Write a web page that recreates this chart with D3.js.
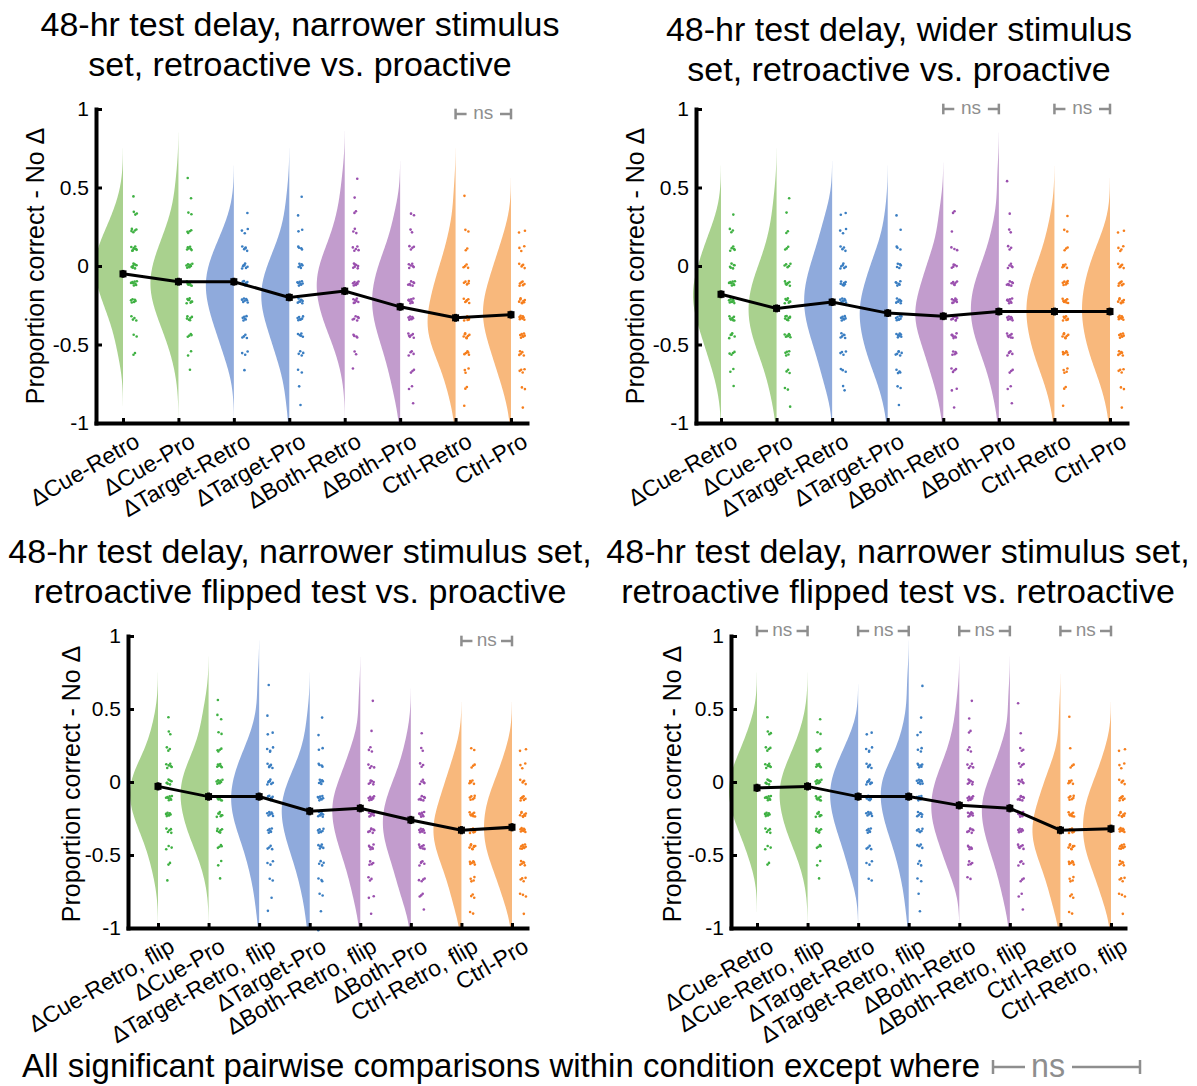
<!DOCTYPE html>
<html>
<head>
<meta charset="utf-8">
<script src="https://cdn.jsdelivr.net/npm/d3@7"></script>
<style>
body { margin: 0; background: #fff; }
text { font-family: "Liberation Sans", Arial, sans-serif; }
</style>
</head>
<body>
<script>
// response levels (proportion correct differences come in ninths)
var levels = [0.778, 0.667, 0.556, 0.444, 0.333, 0.222, 0.111, 0, -0.111, -0.222, -0.333, -0.444, -0.556, -0.667, -0.778, -0.889, -1];

var labelsRetroPro = ["ΔCue-Retro", "ΔCue-Pro", "ΔTarget-Retro", "ΔTarget-Pro", "ΔBoth-Retro", "ΔBoth-Pro", "Ctrl-Retro", "Ctrl-Pro"];
var labelsFlipPro = ["ΔCue-Retro, flip", "ΔCue-Pro", "ΔTarget-Retro, flip", "ΔTarget-Pro", "ΔBoth-Retro, flip", "ΔBoth-Pro", "Ctrl-Retro, flip", "Ctrl-Pro"];
var labelsFlipRetro = ["ΔCue-Retro", "ΔCue-Retro, flip", "ΔTarget-Retro", "ΔTarget-Retro, flip", "ΔBoth-Retro", "ΔBoth-Retro, flip", "Ctrl-Retro", "Ctrl-Retro, flip"];

var yTicks = [-1, -0.5, 0, 0.5, 1];

// means shown by the black line
var meansNarrow = [-0.05, -0.10, -0.10, -0.20, -0.16, -0.26, -0.33, -0.31];
var meansWider = [-0.18, -0.27, -0.23, -0.30, -0.32, -0.29, -0.29, -0.29];
var meansFlipPro = [-0.03, -0.10, -0.10, -0.20, -0.18, -0.26, -0.33, -0.31];
var meansFlipRetro = [-0.04, -0.03, -0.10, -0.10, -0.16, -0.18, -0.33, -0.32];

var semNarrow = [0.025, 0.025, 0.025, 0.025, 0.025, 0.025, 0.025, 0.025];
var semWider = [0.025, 0.025, 0.025, 0.025, 0.025, 0.025, 0.025, 0.025];
var semFlipPro = [0.028, 0.028, 0.028, 0.028, 0.028, 0.028, 0.028, 0.028];
var semFlipRetro = [0.028, 0.028, 0.028, 0.028, 0.028, 0.028, 0.028, 0.028];

// number of subjects at each level (same order as levels), one row per condition
var countsNarrow = [
  [0,0,0,1,3,5,8,9,8,6,4,2,2,0,0,0,0],
  [0,0,1,1,2,4,6,8,9,8,6,4,2,1,0,0,0],
  [0,0,0,0,1,3,5,7,8,7,6,4,3,1,0,0,0],
  [0,0,0,1,1,2,4,6,8,8,7,5,4,2,1,1,0],
  [0,0,1,1,2,3,5,7,8,7,6,4,2,1,0,0,0],
  [0,0,0,0,2,2,4,6,7,8,7,6,4,3,2,1,0],
  [0,0,0,1,0,2,2,4,5,6,7,7,5,3,2,1,0],
  [0,0,0,0,0,2,3,5,6,8,8,7,5,4,2,1,0]
];
var countsWider = [
  [0,0,0,0,1,3,5,6,8,8,7,5,4,2,1,0,0],
  [0,0,0,1,1,2,3,5,7,8,8,7,5,3,2,1,0],
  [0,0,0,0,2,3,4,6,7,8,7,6,4,3,2,0,0],
  [0,0,0,0,1,1,3,5,6,8,8,7,6,4,2,1,0],
  [0,0,0,0,2,1,3,5,6,8,9,7,5,4,2,1,0],
  [0,0,1,0,1,2,3,5,7,8,8,7,5,3,2,1,0],
  [0,0,0,0,1,2,3,5,7,8,8,7,6,4,2,1,0],
  [0,0,0,0,0,2,4,6,7,8,8,7,6,4,2,1,0]
];
var countsFlipPro = [
  [0,0,0,1,2,3,6,8,8,7,5,3,2,1,0,0,0],
  [0,0,1,2,2,4,6,8,8,7,6,4,2,1,0,0,0],
  [0,1,0,1,2,4,6,7,8,7,6,4,3,2,1,1,0],
  [0,0,0,1,1,2,4,6,8,8,7,6,4,3,2,1,1],
  [0,0,1,0,1,3,4,6,8,8,7,6,4,3,2,1,0],
  [0,0,0,0,1,2,3,5,7,8,8,7,5,4,3,1,0],
  [0,0,0,0,0,2,3,5,6,8,9,8,6,4,3,2,0],
  [0,0,0,0,0,2,3,5,7,8,8,8,6,4,3,1,0]
];
var countsFlipRetro = [
  [0,0,0,1,3,4,7,8,8,7,5,3,2,0,0,0,0],
  [0,0,0,1,2,4,6,8,8,7,6,4,2,1,0,0,0],
  [0,0,0,0,2,4,6,8,8,7,6,4,3,2,0,0,0],
  [0,1,0,1,2,3,6,8,8,7,6,4,3,2,1,1,0],
  [0,0,1,1,2,3,5,7,8,8,7,5,4,2,0,0,0],
  [0,0,1,0,1,3,4,6,8,8,7,6,4,3,2,1,0],
  [0,0,0,1,0,1,3,5,6,8,9,8,6,4,3,2,0],
  [0,0,0,0,0,2,3,5,7,8,8,8,6,4,3,1,0]
];

// non-significant pairs (1-based condition index)
var nsNarrow = [[7, 8]];
var nsWider = [[5, 6], [7, 8]];
var nsFlipPro = [[7, 8]];
var nsFlipRetro = [[1, 2], [3, 4], [5, 6], [7, 8]];

var violinColors = ["#a9d18e", "#a9d18e", "#8faadc", "#8faadc", "#c29ccd", "#c29ccd", "#f8b87c", "#f8b87c"];
var dotColors = ["#3fb143", "#3fb143", "#3a7ec2", "#3a7ec2", "#9a4fae", "#9a4fae", "#f67e1c", "#f67e1c"];
var nsGray = "#8e8e8e";

var svg = d3.select("body").append("svg")
    .attr("width", 1197)
    .attr("height", 1086);

var panels = [
  { title: ["48-hr test delay, narrower stimulus", "set, retroactive vs. proactive"], labels: labelsRetroPro,
    means: meansNarrow, sem: semNarrow, counts: countsNarrow, ns: nsNarrow,
    left: 96, right: 527, c1: 123, c8: 511, top: 109, bottom: 423, tx: 300, ty: 36, lx: 44, ly: 266, nsY: 114 },
  { title: ["48-hr test delay, wider stimulus", "set, retroactive vs. proactive"], labels: labelsRetroPro,
    means: meansWider, sem: semWider, counts: countsWider, ns: nsWider,
    left: 696, right: 1127, c1: 721, c8: 1110, top: 109, bottom: 423, tx: 899, ty: 41, lx: 644, ly: 266, nsY: 109 },
  { title: ["48-hr test delay, narrower stimulus set,", "retroactive flipped test vs. proactive"], labels: labelsFlipPro,
    means: meansFlipPro, sem: semFlipPro, counts: countsFlipPro, ns: nsFlipPro,
    left: 128, right: 527, c1: 158, c8: 512, top: 636, bottom: 928, tx: 300, ty: 563, lx: 80, ly: 784, nsY: 641 },
  { title: ["48-hr test delay, narrower stimulus set,", "retroactive flipped test vs. retroactive"], labels: labelsFlipRetro,
    means: meansFlipRetro, sem: semFlipRetro, counts: countsFlipRetro, ns: nsFlipRetro,
    left: 731, right: 1125, c1: 757, c8: 1111, top: 636, bottom: 928, tx: 898, ty: 563, lx: 681, ly: 784, nsY: 631 }
];

// deterministic spread of the dots inside a row
function halton(i, b) {
    var f = 1, r = 0;
    while (i > 0) { f /= b; r += f * (i % b); i = Math.floor(i / b); }
    return r;
}

var grid = d3.range(-1, 1.0001, 0.01);

function kde(vals, h) {
    return grid.map(function (t) {
        return [t, d3.sum(vals, function (v) { return Math.exp(-0.5 * Math.pow((t - v) / h, 2)); })];
    });
}

panels.forEach(drawPanel);

function drawPanel(p) {
    var g = svg.append("g");
    var step = (p.c8 - p.c1) / 7;
    var x = d3.scaleLinear()
        .domain([1 - (p.c1 - p.left) / step, 8 + (p.right - p.c8) / step])
        .range([p.left, p.right]);
    var y = d3.scaleLinear().domain([-1, 1]).range([p.bottom, p.top]);

    // title
    g.append("text")
        .attr("x", p.tx).attr("y", p.ty)
        .attr("text-anchor", "middle")
        .attr("font-size", 34)
        .selectAll("tspan")
        .data(p.title)
        .enter().append("tspan")
            .attr("x", p.tx)
            .attr("dy", function (d, i) { return i ? 40 : 0; })
            .text(function (d) { return d; });

    // violins
    p.counts.forEach(function (row, ci) {
        var vals = [];
        row.forEach(function (c, j) { for (var k = 0; k < c; k++) vals.push(levels[j]); });
        var dens = kde(vals, 0.12);
        var mx = d3.max(dens, function (d) { return d[1]; });
        dens = dens.filter(function (d) { return d[1] / mx > 0.002; });
        var cx = x(ci + 1);
        var area = d3.area()
            .curve(d3.curveBasis)
            .y(function (d) { return y(d[0]); })
            .x0(function (d) { return cx - 28 * d[1] / mx; })
            .x1(cx);
        g.append("path")
            .attr("d", area(dens))
            .attr("fill", violinColors[ci]);

        // dots
        var dots = [];
        row.forEach(function (c, j) {
            for (var k = 0; k < c; k++) {
                var idx = k + 1 + j * 7 + ci * 13;
                dots.push({ v: levels[j], dx: 8 + 6 * halton(idx, 2), dy: (halton(idx, 3) - 0.5) * 5 });
            }
        });
        g.selectAll(null)
            .data(dots)
            .enter().append("circle")
                .attr("cx", function (d) { return cx + d.dx; })
                .attr("cy", function (d) { return y(d.v) + d.dy; })
                .attr("r", 1.3)
                .attr("fill", dotColors[ci]);
    });

    // axes
    var yAxis = g.append("g")
        .attr("transform", "translate(" + p.left + ",0)")
        .call(d3.axisLeft(y).tickValues(yTicks).tickFormat(function (d) { return String(d); })
            .tickSizeInner(-6).tickSizeOuter(0).tickPadding(7));
    yAxis.selectAll("text").attr("font-size", 21).attr("font-family", "Liberation Sans, Arial, sans-serif");
    yAxis.selectAll("line").attr("stroke-width", 3);

    var xAxis = g.append("g")
        .attr("transform", "translate(0," + p.bottom + ")")
        .call(d3.axisBottom(x).tickValues(d3.range(1, 9)).tickFormat(function (d) { return p.labels[d - 1]; })
            .tickSizeInner(-5).tickSizeOuter(0));
    xAxis.selectAll("line").attr("stroke-width", 3);
    xAxis.selectAll("text")
        .attr("font-size", 23)
        .attr("font-family", "Liberation Sans, Arial, sans-serif")
        .attr("text-anchor", "end")
        .attr("x", 0).attr("y", 0).attr("dy", "0.75em")
        .attr("transform", "translate(9,8) rotate(-30)");

    g.selectAll(".domain").attr("stroke-width", 4).attr("stroke-linecap", "square");

    // mean line with error bars
    var line = d3.line()
        .x(function (d, i) { return x(i + 1); })
        .y(function (d) { return y(d); });
    g.append("path")
        .attr("d", line(p.means))
        .attr("fill", "none")
        .attr("stroke", "#000")
        .attr("stroke-width", 3);
    g.selectAll(null)
        .data(p.means)
        .enter().append("line")
            .attr("x1", function (d, i) { return x(i + 1); })
            .attr("x2", function (d, i) { return x(i + 1); })
            .attr("y1", function (d, i) { return y(d - p.sem[i]); })
            .attr("y2", function (d, i) { return y(d + p.sem[i]); })
            .attr("stroke", "#000")
            .attr("stroke-width", 3);
    g.selectAll(null)
        .data(p.means)
        .enter().append("rect")
            .attr("x", function (d, i) { return x(i + 1) - 3.5; })
            .attr("y", function (d) { return y(d) - 3.5; })
            .attr("width", 7).attr("height", 7)
            .attr("fill", "#000");

    // y label
    g.append("text")
        .attr("transform", "translate(" + p.lx + "," + p.ly + ") rotate(-90)")
        .attr("text-anchor", "middle")
        .attr("font-size", 25)
        .text("Proportion correct - No Δ");

    // ns brackets
    p.ns.forEach(function (pair) {
        drawNS(g, x(pair[0]), x(pair[1]), p.nsY, 11, 19);
    });
}

function drawNS(g, x1, x2, yy, seg, fs) {
    var b = g.append("g").attr("stroke", nsGray).attr("stroke-width", 2.5).attr("fill", "none");
    b.append("line").attr("x1", x1).attr("x2", x1 + seg).attr("y1", yy).attr("y2", yy);
    b.append("line").attr("x1", x2 - seg).attr("x2", x2).attr("y1", yy).attr("y2", yy);
    b.append("line").attr("x1", x1).attr("x2", x1).attr("y1", yy - fs * 0.28).attr("y2", yy + fs * 0.28);
    b.append("line").attr("x1", x2).attr("x2", x2).attr("y1", yy - fs * 0.28).attr("y2", yy + fs * 0.28);
    g.append("text")
        .attr("x", (x1 + x2) / 2).attr("y", yy + fs * 0.26)
        .attr("text-anchor", "middle")
        .attr("font-size", fs)
        .attr("fill", nsGray)
        .text("ns");
}

// footnote
svg.append("text")
    .attr("x", 22).attr("y", 1077)
    .attr("font-size", 33)
    .attr("textLength", 958)
    .attr("lengthAdjust", "spacingAndGlyphs")
    .text("All significant pairwise comparisons within condition except where");

var foot = svg.append("g").attr("stroke", nsGray).attr("stroke-width", 2.5);
foot.append("line").attr("x1", 993).attr("x2", 1025).attr("y1", 1067).attr("y2", 1067);
foot.append("line").attr("x1", 1072).attr("x2", 1140).attr("y1", 1067).attr("y2", 1067);
foot.append("line").attr("x1", 993).attr("x2", 993).attr("y1", 1060).attr("y2", 1074);
foot.append("line").attr("x1", 1140).attr("x2", 1140).attr("y1", 1060).attr("y2", 1074);
svg.append("text")
    .attr("x", 1048).attr("y", 1077)
    .attr("text-anchor", "middle")
    .attr("font-size", 33)
    .attr("textLength", 34)
    .attr("lengthAdjust", "spacingAndGlyphs")
    .attr("fill", nsGray)
    .text("ns");
</script>
</body>
</html>
